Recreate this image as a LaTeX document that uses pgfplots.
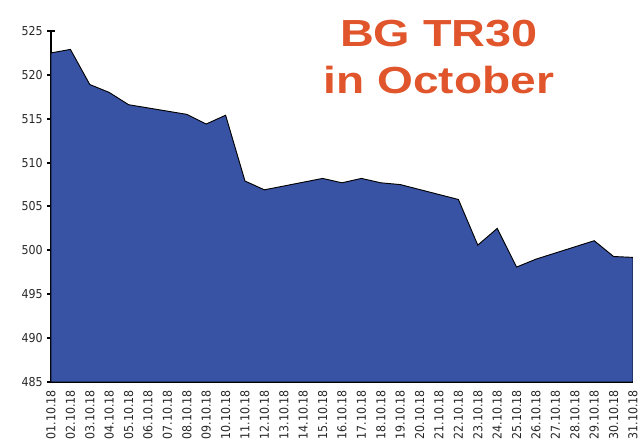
\documentclass[border=0pt]{standalone}
\usepackage{fontspec}
\setmainfont{DejaVu Sans Condensed}
\newfontfamily\titlefont{Liberation Sans}
\usepackage{pgfplots}
\pgfplotsset{compat=1.18}
\definecolor{areablue}{RGB}{57,83,164}
\definecolor{titleorange}{RGB}{224,85,43}
\definecolor{ticktext}{RGB}{40,40,40}
\begin{document}
\begin{tikzpicture}
\begin{axis}[
    scale only axis,
    width=436.5pt, height=263.25pt,
    xmin=1, xmax=31, ymin=485, ymax=525,
    axis x line=bottom, axis y line=left,
    axis line style={-},
    x axis line style={line width=0.8pt},
    y axis line style={line width=2.2pt},
    ytick={485,490,...,525},
    xtick={1,...,31},
    xticklabels={01.10.18,02.10.18,03.10.18,04.10.18,05.10.18,06.10.18,07.10.18,08.10.18,09.10.18,10.10.18,11.10.18,12.10.18,13.10.18,14.10.18,15.10.18,16.10.18,17.10.18,18.10.18,19.10.18,20.10.18,21.10.18,22.10.18,23.10.18,24.10.18,25.10.18,26.10.18,27.10.18,28.10.18,29.10.18,30.10.18,31.10.18},
    xticklabel style={rotate=90, anchor=east, font=\fontsize{9.2}{10}\selectfont, text=ticktext},
    yticklabel style={font=\fontsize{9.2}{10}\selectfont, text=ticktext},
    /pgf/number format/assume math mode=true,
    x tick style={draw=none},
    y tick style={line width=1.5pt, black},
    major tick length=5.5pt,
    tick align=center,
]
\addplot[fill=areablue, draw=black, line width=0.7pt] coordinates {
    (1,522.5) (2,522.9) (3,518.9) (4,518.0) (5,516.6)
    (8,515.5) (9,514.4) (10,515.4) (11,507.9) (12,506.9)
    (15,508.2) (16,507.7) (17,508.2) (18,507.7) (19,507.5)
    (22,505.8) (23,500.6) (24,502.5) (25,498.1) (26,499.0)
    (29,501.1) (30,499.3) (31,499.2)
} \closedcycle;
\coordinate (sw) at (rel axis cs:0,0);
\end{axis}
\node[anchor=base, text=titleorange, font=\titlefont\bfseries\fontsize{28.3}{30}\selectfont] at ([shift={(291pt,251.25pt)}]sw) {\scalebox{1.24}[1]{BG TR30}};
\node[anchor=base, text=titleorange, font=\titlefont\bfseries\fontsize{28.3}{30}\selectfont] at ([shift={(291pt,216pt)}]sw) {\scalebox{1.22}[1]{in October}};
\pgfresetboundingbox
\path[use as bounding box] ([shift={(-38.25pt,-44.25pt)}]sw) rectangle ([shift={(444.75pt,286.5pt)}]sw);
\end{tikzpicture}
\end{document}
